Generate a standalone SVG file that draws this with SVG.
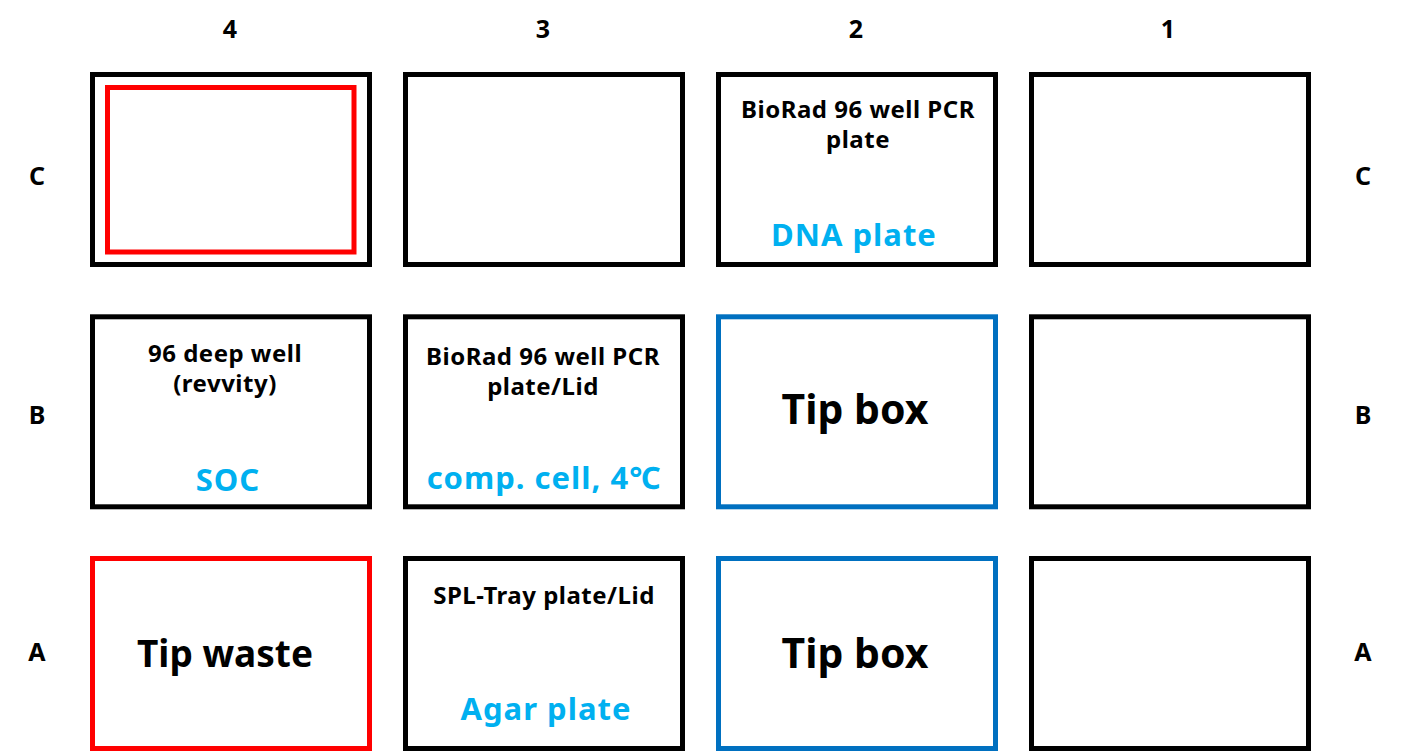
<svg xmlns="http://www.w3.org/2000/svg" width="1401" height="752" viewBox="0 0 1401 752">
<style>
text{font-family:"Noto Sans","Open Sans","Noto Sans CJK KR",sans-serif;font-weight:bold;text-anchor:middle}
.box{fill:#fff;stroke:#000;stroke-width:5}
.red{fill:none;stroke:#FF0000;stroke-width:5}
.blue{fill:#fff;stroke:#0070C0;stroke-width:5}
.lab{font-size:25px;fill:#000}
.sm{font-size:24px;fill:#000;letter-spacing:0.5px}
.cy{font-size:31px;fill:#00B0F0;letter-spacing:1px}
.big{font-size:41px;fill:#000}
.waste{font-size:37px;fill:#000}
</style>
<rect width="1401" height="752" fill="#fff"/>
<g id="labels">
<text class="lab" x="230" y="38">4</text>
<text class="lab" x="543" y="38">3</text>
<text class="lab" x="856" y="38">2</text>
<text class="lab" x="1168" y="38">1</text>
<text class="lab" x="37" y="185">C</text>
<text class="lab" x="1363" y="185">C</text>
<text class="lab" x="37" y="424">B</text>
<text class="lab" x="1363" y="424">B</text>
<text class="lab" x="37" y="661">A</text>
<text class="lab" x="1363" y="661">A</text>
</g>
<g id="C4"><rect class="box" x="92.5" y="74.5" width="277" height="190"/><rect class="red" x="107.5" y="87.5" width="246.5" height="164.5"/></g>
<g id="C3"><rect class="box" x="405.5" y="74.5" width="277" height="190"/></g>
<g id="C2"><rect class="box" x="718.5" y="74.5" width="277" height="190"/>
<text class="sm" x="858" y="118">BioRad 96 well PCR</text>
<text class="sm" x="858" y="148">plate</text>
<text class="cy" x="854" y="246">DNA plate</text></g>
<g id="C1"><rect class="box" x="1031.5" y="74.5" width="277" height="190"/></g>
<g id="B4"><rect class="box" x="92.5" y="316.8" width="277" height="190"/>
<text class="sm" x="225" y="362">96 deep well</text>
<text class="sm" x="225" y="392">(revvity)</text>
<text class="cy" x="228" y="491">SOC</text></g>
<g id="B3"><rect class="box" x="405.5" y="316.8" width="277" height="190"/>
<text class="sm" x="543" y="365">BioRad 96 well PCR</text>
<text class="sm" x="543" y="395">plate/Lid</text>
<text class="cy" x="544" y="489">comp. cell, 4℃</text></g>
<g id="B2"><rect class="blue" x="718.5" y="316.8" width="277" height="190"/>
<text class="big" x="855" y="424">Tip box</text></g>
<g id="B1"><rect class="box" x="1031.5" y="316.8" width="277" height="190"/></g>
<g id="A4"><rect class="box" x="92.5" y="558.5" width="277" height="190" style="stroke:#FF0000"/>
<text class="waste" x="225" y="667">Tip waste</text></g>
<g id="A3"><rect class="box" x="405.5" y="558.5" width="277" height="190"/>
<text class="sm" x="544" y="604">SPL-Tray plate/Lid</text>
<text class="cy" x="546" y="720">Agar plate</text></g>
<g id="A2"><rect class="blue" x="718.5" y="558.5" width="277" height="190"/>
<text class="big" x="855" y="668">Tip box</text></g>
<g id="A1"><rect class="box" x="1031.5" y="558.5" width="277" height="190"/></g>
<g id="connectors"/>
</svg>
